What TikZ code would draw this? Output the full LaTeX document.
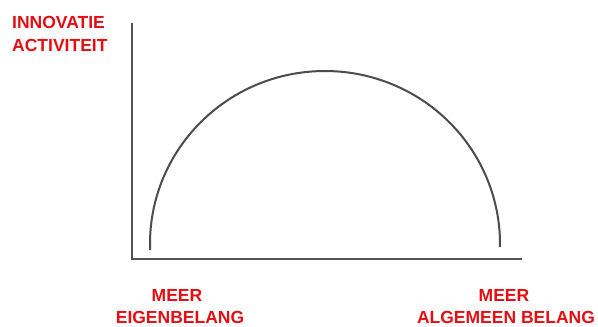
\documentclass[tikz,border=0pt]{standalone}
\usepackage{fontspec}
\setmainfont{Liberation Sans}
\definecolor{lblred}{RGB}{228,14,20}
\definecolor{axisgray}{RGB}{85,85,85}
\begin{document}
\begin{tikzpicture}[x=1pt,y=1pt,
  lbl/.style={text=lblred,font=\fontsize{17.5}{22}\selectfont\bfseries,inner sep=0pt},
  axisline/.style={draw=axisgray,line width=2pt,line join=miter},
  curveline/.style={draw=axisgray!90!black,line width=2pt}]
\useasboundingbox (0,0) rectangle (598,327);
\fill[white] (0,0) rectangle (598,327);
% axes
\coordinate (ytop) at (132,304);
\coordinate (origin) at (132,68);
\coordinate (xend) at (522,68);
\draw[axisline] (ytop) -- (origin) -- (xend);
% curve
\coordinate (cstart) at ({325+175*cos(182)},{83+173*sin(182)});
\draw[curveline] (cstart) arc[start angle=182,end angle=-1,x radius=175,y radius=173];
% labels
\node[lbl,anchor=base west] (l1) at (12,298) {INNOVATIE};
\node[lbl,anchor=base west] (l2) at (12,275) {ACTIVITEIT};
\node[lbl,anchor=base] (b1) at (177,25) {MEER};
\node[lbl,anchor=base] (b2) at (180,3) {EIGENBELANG};
\node[lbl,anchor=base] (c1) at (504,25) {MEER};
\node[lbl,anchor=base] (c2) at (506,3) {ALGEMEEN BELANG};
\end{tikzpicture}
\end{document}
